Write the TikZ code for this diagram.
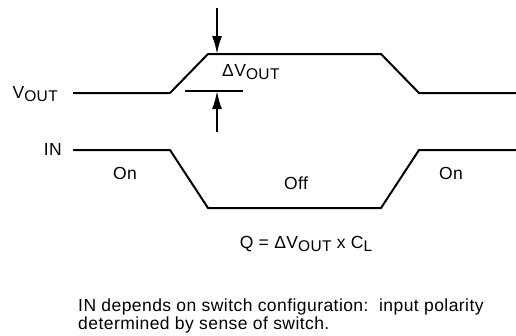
\documentclass[tikz,border=0pt]{standalone}
\usepackage{fontspec}
\setmainfont[LetterSpace=2.5]{Liberation Sans}
\usetikzlibrary{arrows.meta}

\begin{document}
\begin{tikzpicture}[x=1pt,y=-1pt]
  \tikzset{
    wave/.style={line width=2pt},
    dimline/.style={line width=2pt,-{Latex[length=18pt,width=10pt]}},
    txt/.style={font=\fontsize{17.5}{17.5}\selectfont,inner sep=0pt}}
  % \sig{letter}{subscript}
  \newcommand{\sig}[2]{#1\raisebox{-3pt}{\fontsize{15.5}{15}\selectfont #2}}
  \useasboundingbox (0,0) rectangle (516,335);

  % the two waveforms
  \draw[wave] (73,93) -- (170,93) -- (208,54) -- (381,54) -- (419,93) -- (516,93);
  \draw[wave] (73,150) -- (170,150) -- (208,208) -- (381,208) -- (419,150) -- (516,150);
  \node[txt,anchor=base east] (vout) at (58,98) {\sig{V}{OUT}};
  \node[txt,anchor=base east] (in) at (62,155) {IN};

  % the step of V_OUT
  \coordinate (top) at (217,8);
  \coordinate (hi) at (217,54);
  \coordinate (bot) at (217,132);
  \coordinate (lo) at (217,91);
  \coordinate (tickl) at (185,91);
  \coordinate (tickr) at (243,91);
  \draw[dimline] (top) -- (hi);
  \draw[dimline] (bot) -- (lo);
  \draw[wave] (tickl) -- (tickr);
  \node[txt,anchor=base west] (dv) at (222,76) {Δ\sig{V}{OUT}};

  % switch states
  \foreach \x/\y/\s [count=\i] in {125/173/On,296/183/Off,451/173/On}
    \node[txt] (state\i) at (\x,\y) {\s};

  \node[txt,anchor=base] (charge) at (306,248) {Q = Δ\sig{V}{OUT} x \sig{C}{L}};
  \node[txt,anchor=north west,align=left] (note) at (78,299)
    {IN depends on switch configuration:\ \ input polarity\\determined by sense of switch.};
\end{tikzpicture}
\end{document}
